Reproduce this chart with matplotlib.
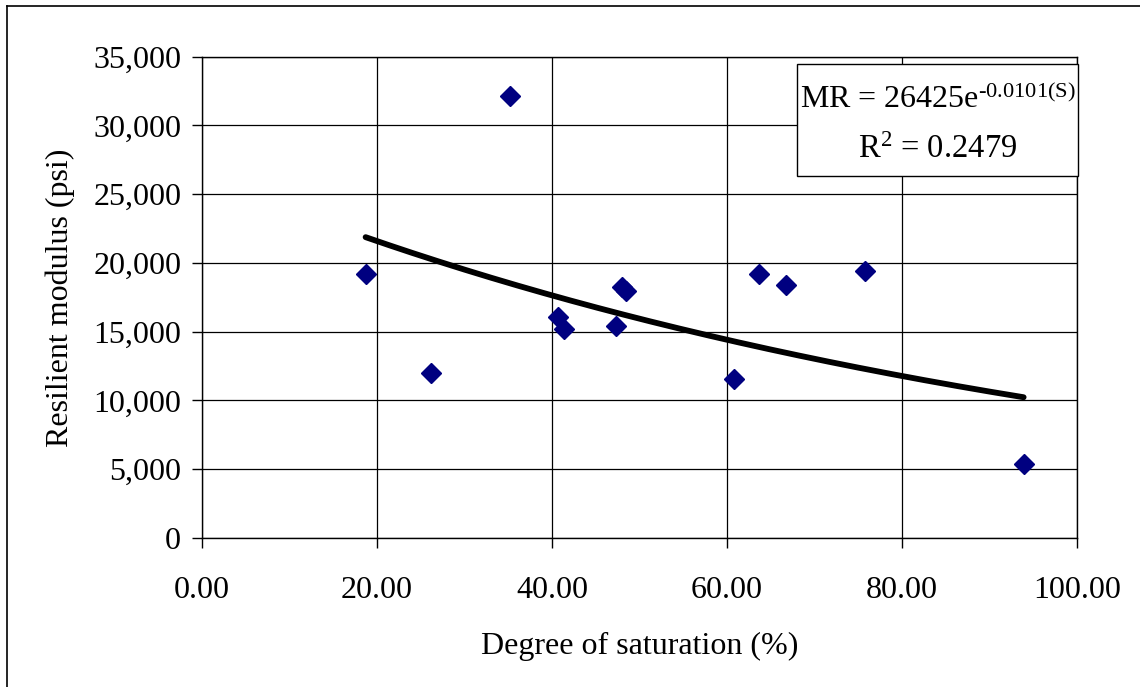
import numpy as np
import matplotlib
matplotlib.use("Agg")
import matplotlib.pyplot as plt
from matplotlib.patches import Rectangle
from matplotlib.lines import Line2D
from matplotlib.ticker import FuncFormatter

plt.rcParams['font.family'] = ['Liberation Serif', 'DejaVu Serif']
plt.rcParams['mathtext.fontset'] = 'custom'
plt.rcParams['mathtext.rm'] = 'Liberation Serif'
plt.rcParams['mathtext.it'] = 'Liberation Serif'
plt.rcParams['mathtext.default'] = 'rm'

# Data
saturation = [18.7, 26.2, 35.2, 40.7, 41.4, 47.3, 48.0, 48.5, 60.8, 63.6, 66.7, 75.8, 93.9]
modulus = [19180, 12030, 32120, 16040, 15190, 15390, 18260, 17970, 11540, 19180, 18400, 19420, 5410]

# Trendline coefficients (as displayed)
coef_a = 26425
coef_b = -0.0101
r_squared = 0.2479

x_ticks = [0, 20, 40, 60, 80, 100]
y_ticks = [0, 5000, 10000, 15000, 20000, 25000, 30000, 35000]

fig = plt.figure(figsize=(11.4, 6.87), dpi=100)
ax = fig.add_axes([202/1140, 1-538/687, (1077-202)/1140, (538-56.7)/687])

ax.set_xlim(0, 100)
ax.set_ylim(0, 35000)
ax.set_xticks(x_ticks)
ax.set_yticks(y_ticks)
ax.xaxis.set_major_formatter(FuncFormatter(lambda v, p: f"{v:.2f}"))
ax.yaxis.set_major_formatter(FuncFormatter(lambda v, p: f"{int(v):,}"))
ax.grid(True, color='black', linewidth=0.9)
ax.set_axisbelow(True)
for s in ax.spines.values():
    s.set_color('black')
    s.set_linewidth(1.0)
ax.tick_params(axis='both', direction='out', length=7, width=1, labelsize=23, color='black')
ax.tick_params(axis='x', pad=20)
ax.tick_params(axis='y', pad=8)

# Trendline over the data range
xs = np.linspace(min(saturation), max(saturation), 200)
ax.plot(xs, coef_a * np.exp(coef_b * xs), color='black', linewidth=4.2,
        solid_capstyle='round', zorder=3)

ax.plot(saturation, modulus, linestyle='none', marker='D', markersize=10.5,
        color='#000080', markeredgecolor='#000080', zorder=4)

ax.set_xlabel('Degree of saturation (%)', fontsize=23, labelpad=20)
ax.set_ylabel('Resilient modulus (psi)', fontsize=23, labelpad=13)

# Equation box
bx0, bx1, by0, by1 = 797/1140, 1078/1140, 1-176/687, 1-64/687
fig.patches.append(Rectangle((bx0, by0), bx1-bx0, by1-by0, transform=fig.transFigure,
                             facecolor='white', edgecolor='black', linewidth=1.0, zorder=5))
cx = (bx0 + bx1) / 2
fig.text(cx, 1-108/687, r'MR = %de$^{\text{%.4f(S)}}$' % (coef_a, coef_b), fontsize=23,
         ha='center', va='baseline', zorder=6)
fig.text(cx, 1-158/687, r'R$^{2}$ = %.4f' % r_squared, fontsize=23.5,
         ha='center', va='baseline', zorder=6)

# Figure frame (left and top edges visible)
fig.add_artist(Line2D([7/1140, 7/1140], [0, 1-5.5/687], transform=fig.transFigure, color='black', linewidth=1.2))
fig.add_artist(Line2D([7/1140, 1], [1-5.5/687, 1-5.5/687], transform=fig.transFigure, color='black', linewidth=1.2))

fig.savefig('out.png', dpi=100)
